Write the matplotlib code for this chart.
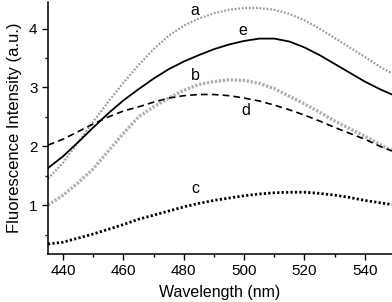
import matplotlib
matplotlib.use('Agg')
import matplotlib.pyplot as plt
from matplotlib.ticker import MultipleLocator

plt.rcParams['font.family'] = ['Liberation Sans', 'DejaVu Sans']

# wavelength grid (nm) and fluorescence intensity
wl = [435, 440, 445, 450, 455, 460, 465, 470, 475, 480, 485, 490,
      495, 500, 505, 510, 515, 520, 525, 530, 535, 540, 545, 549]
a = [1.45, 1.72, 2.07, 2.42, 2.76, 3.08, 3.38, 3.65, 3.88, 4.05, 4.17, 4.26,
     4.32, 4.35, 4.35, 4.32, 4.25, 4.14, 4.00, 3.84, 3.68, 3.52, 3.35, 3.24]
b = [1.00, 1.17, 1.38, 1.62, 1.92, 2.22, 2.50, 2.67, 2.82, 2.95, 3.05, 3.10,
     3.13, 3.12, 3.07, 2.98, 2.85, 2.72, 2.58, 2.43, 2.30, 2.17, 2.03, 1.93]
c = [0.34, 0.37, 0.44, 0.51, 0.59, 0.67, 0.76, 0.83, 0.90, 0.97, 1.03, 1.08,
     1.12, 1.16, 1.19, 1.21, 1.22, 1.22, 1.20, 1.17, 1.13, 1.08, 1.04, 1.01]
d = [2.02, 2.12, 2.25, 2.38, 2.50, 2.60, 2.67, 2.75, 2.82, 2.86, 2.88, 2.88,
     2.86, 2.82, 2.77, 2.70, 2.62, 2.53, 2.43, 2.32, 2.22, 2.12, 2.00, 1.92]
e = [1.63, 1.83, 2.07, 2.32, 2.56, 2.78, 2.97, 3.15, 3.31, 3.44, 3.55, 3.65,
     3.73, 3.79, 3.83, 3.83, 3.78, 3.68, 3.55, 3.40, 3.25, 3.10, 2.97, 2.88]

# curve labels: (text, x, y)
labels = [('a', 483.5, 4.30), ('b', 484, 3.20), ('c', 484, 1.29),
          ('d', 500.7, 2.61), ('e', 499.4, 3.97)]

fig = plt.figure(figsize=(3.92, 3.02), dpi=100)
ax = fig.add_axes([0.1224, 0.159, 0.8776, 0.834])

ax.plot(wl, a, color='#9a9a9a', lw=1.6, ls=(0, (0.8, 0.8)))
ax.plot(wl, b, color='#b0b0b0', lw=2.4, ls=(0, (0.7, 0.5)))
ax.plot(wl, c, color='black', lw=2.0, ls=(0, (0.8, 0.8)))
ax.plot(wl, d, color='black', lw=1.2, ls=(0, (4, 2.5)))
ax.plot(wl, e, color='black', lw=1.3)

for txt, x, y in labels:
    ax.text(x, y, txt, fontsize=11.5, ha='center', va='center')

ax.set_xlim(435, 549)
ax.set_ylim(0.17, 4.45)
ax.xaxis.set_major_locator(MultipleLocator(20))
ax.xaxis.set_minor_locator(MultipleLocator(10))
ax.yaxis.set_major_locator(MultipleLocator(1))
ax.yaxis.set_minor_locator(MultipleLocator(0.5))
ax.tick_params(which='major', direction='out', length=4, width=1, labelsize=11)
ax.tick_params(which='minor', direction='out', length=2.5, width=1)
ax.spines['top'].set_visible(False)
ax.spines['right'].set_visible(False)
for s in ('left', 'bottom'):
    ax.spines[s].set_linewidth(1.1)

ax.set_xlabel('Wavelength (nm)', fontsize=11.5, labelpad=5)
ax.set_ylabel('Fluorescence Intensity (a.u.)', fontsize=12, labelpad=5)

fig.savefig('out.png', dpi=100)
